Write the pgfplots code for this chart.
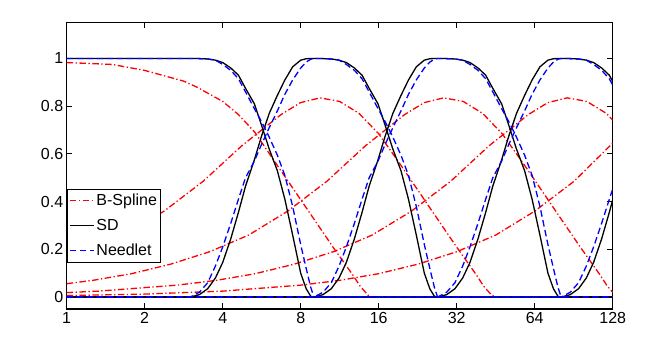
\documentclass[border=0pt]{standalone}
\usepackage{fontspec}
\setmainfont{Liberation Sans}
\usepackage{pgfplots}
\pgfplotsset{compat=1.18}
\usetikzlibrary{calc}

\definecolor{bspl}{RGB}{255,0,0}
\definecolor{sd}{RGB}{0,0,0}
\definecolor{ndl}{RGB}{0,0,255}

\tikzset{
  bspline/.style={draw=bspl, line width=1.3pt, dash pattern=on 6.5pt off 2.5pt on 1.3pt off 2.5pt},
  sdline/.style={draw=sd, line width=1.3pt},
  needle/.style={draw=ndl, line width=1.3pt, dash pattern=on 6.5pt off 3.5pt},
}

\begin{document}
\begin{tikzpicture}
\begin{axis}[
  scale only axis, width=546pt, height=286.3pt,
  xmode=log, log basis x=2,
  xmin=1, xmax=128, ymin=-0.05, ymax=1.15,
  xtick={1,2,4,8,16,32,64,128}, xticklabels={1,2,4,8,16,32,64,128},
  ytick={0,0.2,0.4,0.6,0.8,1}, yticklabels={0,0.2,0.4,0.6,0.8,1},
  minor xtick={},
  axis line style={line width=1.1pt},
  every tick/.style={black, line width=0.9pt},
  major tick length=5.5pt,
  tick label style={font=\fontsize{16}{19}\selectfont},
  /pgf/number format/assume math mode=true,
  legend style={at={(0,0.42)}, anchor=north west, draw=black, line width=0.9pt,
    fill=white, font=\fontsize{16}{19}\selectfont, inner xsep=2pt, inner ysep=3pt,
    row sep=8pt},
  legend cell align=left,
  legend image code/.code={\draw[#1] (0pt,0pt) -- (24pt,0pt);},
]
\coordinate (ll) at (rel axis cs:0,0);
\coordinate (ur) at (rel axis cs:1,1);
\addlegendimage{bspline}\addlegendentry{B-Spline}
\addlegendimage{sdline}\addlegendentry{SD}
\addlegendimage{needle}\addlegendentry{Needlet}

% B-Spline
\addplot[bspline, forget plot] coordinates {(1,0.983)(1.5,0.975)(2,0.95)(2.83,0.905)(3.18,0.88)(4,0.82)(4.6,0.765)(5.33,0.69)(6.33,0.57)(7.53,0.45)(8.96,0.33)(10.65,0.21)(12.67,0.095)(13.58,0.045)(14.55,0.008)(15.07,0)(128,0)};
\addplot[bspline, forget plot] coordinates {(1,0.165)(1.19,0.19)(1.68,0.26)(2.375,0.36)(3.36,0.485)(4.75,0.635)(5.65,0.70)(6.72,0.765)(7.99,0.815)(9.5,0.835)(11.3,0.82)(13.43,0.77)(15.98,0.685)(19,0.57)(22.6,0.45)(26.87,0.33)(31.96,0.21)(38,0.095)(40.7,0.045)(43.65,0.008)(45.2,0)(128,0)};
\addplot[bspline, forget plot] coordinates {(1,0.056)(1.26,0.07)(1.78,0.098)(2.52,0.138)(3.56,0.19)(5.04,0.26)(7.125,0.36)(10.09,0.485)(14.25,0.635)(16.96,0.70)(20.15,0.765)(23.97,0.815)(28.5,0.835)(33.9,0.82)(40.3,0.77)(47.9,0.685)(57,0.57)(67.8,0.45)(80.6,0.33)(95.9,0.21)(114,0.095)(122.2,0.045)(131,0.008)};
\addplot[bspline, forget plot] coordinates {(1,0.0187)(1.33,0.025)(2.67,0.05)(3.78,0.07)(5.34,0.098)(7.56,0.138)(10.69,0.19)(15.1,0.26)(21.4,0.36)(30.3,0.485)(42.75,0.635)(50.9,0.70)(60.5,0.765)(71.9,0.815)(85.5,0.835)(101.7,0.82)(120.9,0.77)(143.8,0.685)};
\addplot[bspline, forget plot] coordinates {(1,0.0062)(2,0.0125)(4,0.025)(8,0.05)(11.3,0.07)(16,0.098)(22.7,0.138)(32,0.19)(45.3,0.26)(64,0.36)(90.7,0.485)(128,0.645)};

% SD
\addplot[sdline, forget plot] coordinates {(1,1)(3,1)(3.25,0.9995)(3.5,0.998)(3.75,0.993)(4,0.983)(4.3,0.96)(4.6,0.93)(4.9,0.875)(5.3,0.81)(5.65,0.72)(6.05,0.62)(6.5,0.53)(6.95,0.41)(7.45,0.26)(8,0.10)(8.4,0.035)(8.75,0.003)(9,0)(128,0)};
\addplot[sdline, forget plot] coordinates {(1,0)(3,0)(3.25,0.01)(3.5,0.035)(3.75,0.08)(4,0.145)(4.3,0.245)(4.6,0.355)(4.9,0.465)(5.3,0.575)(5.65,0.675)(6.05,0.77)(6.5,0.845)(6.95,0.91)(7.45,0.965)(8,0.993)(8.4,0.999)(8.75,1)(9,1)(9.75,0.9995)(10.5,0.998)(11.25,0.993)(12,0.983)(12.9,0.96)(13.8,0.93)(14.7,0.875)(15.9,0.81)(16.95,0.72)(18.15,0.62)(19.5,0.53)(20.85,0.41)(22.35,0.26)(24,0.10)(25.2,0.035)(26.25,0.003)(27,0)(128,0)};
\addplot[sdline, forget plot] coordinates {(1,0)(9,0)(9.75,0.01)(10.5,0.035)(11.25,0.08)(12,0.145)(12.9,0.245)(13.8,0.355)(14.7,0.465)(15.9,0.575)(16.95,0.675)(18.15,0.77)(19.5,0.845)(20.85,0.91)(22.35,0.965)(24,0.993)(25.2,0.999)(26.25,1)(27,1)(29.25,0.9995)(31.5,0.998)(33.75,0.993)(36,0.983)(38.7,0.96)(41.4,0.93)(44.1,0.875)(47.7,0.81)(50.85,0.72)(54.45,0.62)(58.5,0.53)(62.55,0.41)(67.05,0.26)(72,0.10)(75.6,0.035)(78.75,0.003)(81,0)(128,0)};
\addplot[sdline, forget plot] coordinates {(1,0)(27,0)(29.25,0.01)(31.5,0.035)(33.75,0.08)(36,0.145)(38.7,0.245)(41.4,0.355)(44.1,0.465)(47.7,0.575)(50.85,0.675)(54.45,0.77)(58.5,0.845)(62.55,0.91)(67.05,0.965)(72,0.993)(75.6,0.999)(78.75,1)(81,1)(87.75,0.9995)(94.5,0.998)(101.25,0.993)(108,0.983)(116.1,0.96)(124.2,0.93)(132.3,0.875)};
\addplot[sdline, forget plot] coordinates {(1,0)(81,0)(87.75,0.01)(94.5,0.035)(101.25,0.08)(108,0.145)(116.1,0.245)(124.2,0.355)(132.3,0.465)};

% Needlet
\addplot[needle, forget plot] coordinates {(1,1)(3,1)(3.25,0.9995)(3.5,0.998)(3.75,0.993)(4,0.975)(4.3,0.95)(4.6,0.915)(4.9,0.86)(5.3,0.79)(5.65,0.735)(6.05,0.67)(6.5,0.595)(6.95,0.51)(7.45,0.38)(8,0.22)(8.4,0.12)(8.75,0.04)(9,0)(128,0)};
\addplot[needle, forget plot] coordinates {(1,0)(3,0)(3.25,0.02)(3.5,0.06)(3.75,0.13)(4,0.21)(4.3,0.31)(4.6,0.41)(4.9,0.50)(5.3,0.57)(5.65,0.64)(6.05,0.71)(6.5,0.78)(6.95,0.85)(7.45,0.91)(8,0.96)(8.4,0.985)(8.75,0.997)(9,1)(9.75,0.9995)(10.5,0.998)(11.25,0.993)(12,0.975)(12.9,0.95)(13.8,0.915)(14.7,0.86)(15.9,0.79)(16.95,0.735)(18.15,0.67)(19.5,0.595)(20.85,0.51)(22.35,0.38)(24,0.22)(25.2,0.12)(26.25,0.04)(27,0)(128,0)};
\addplot[needle, forget plot] coordinates {(1,0)(9,0)(9.75,0.02)(10.5,0.06)(11.25,0.13)(12,0.21)(12.9,0.31)(13.8,0.41)(14.7,0.50)(15.9,0.57)(16.95,0.64)(18.15,0.71)(19.5,0.78)(20.85,0.85)(22.35,0.91)(24,0.96)(25.2,0.985)(26.25,0.997)(27,1)(29.25,0.9995)(31.5,0.998)(33.75,0.993)(36,0.975)(38.7,0.95)(41.4,0.915)(44.1,0.86)(47.7,0.79)(50.85,0.735)(54.45,0.67)(58.5,0.595)(62.55,0.51)(67.05,0.38)(72,0.22)(75.6,0.12)(78.75,0.04)(81,0)(128,0)};
\addplot[needle, forget plot] coordinates {(1,0)(27,0)(29.25,0.02)(31.5,0.06)(33.75,0.13)(36,0.21)(38.7,0.31)(41.4,0.41)(44.1,0.50)(47.7,0.57)(50.85,0.64)(54.45,0.71)(58.5,0.78)(62.55,0.85)(67.05,0.91)(72,0.96)(75.6,0.985)(78.75,0.997)(81,1)(87.75,0.9995)(94.5,0.998)(101.25,0.993)(108,0.975)(116.1,0.95)(124.2,0.915)(132.3,0.86)};
\addplot[needle, forget plot] coordinates {(1,0)(81,0)(87.75,0.02)(94.5,0.06)(101.25,0.13)(108,0.21)(116.1,0.31)(124.2,0.41)(132.3,0.50)};
\end{axis}
\path ($(ll)+(-66.7pt,-39pt)$) rectangle ($(ur)+(46.3pt,22.7pt)$);
\end{tikzpicture}
\end{document}
